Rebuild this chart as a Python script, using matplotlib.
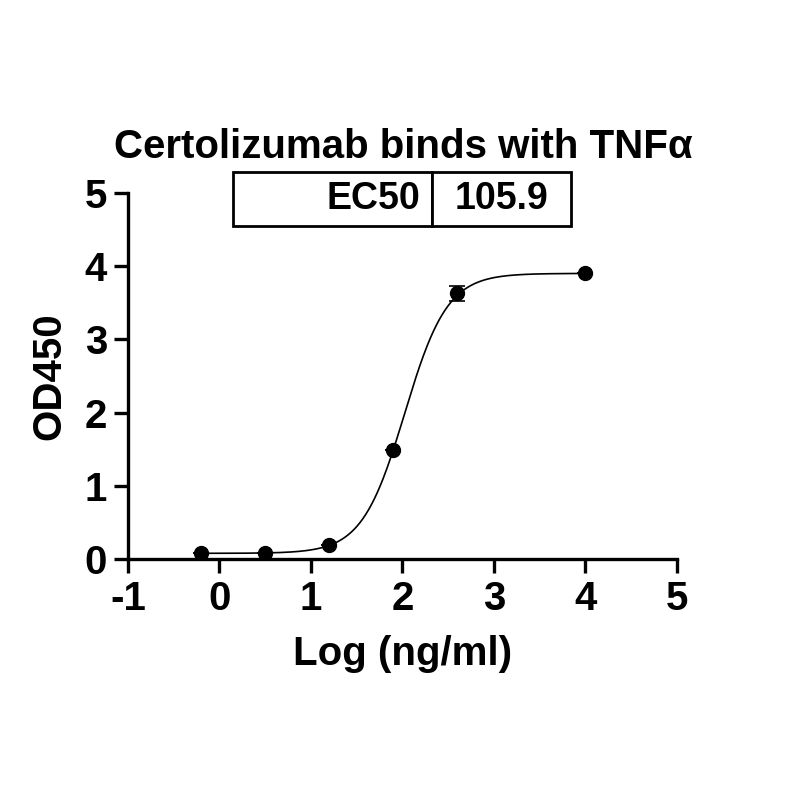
import numpy as np
import matplotlib.pyplot as plt

plt.rcParams["font.family"] = ["Liberation Sans", "DejaVu Sans"]
plt.rcParams["font.weight"] = "bold"

# measured points
log_conc = [-0.2, 0.5, 1.2, 1.9, 2.6, 4.0]
od450 = [0.08, 0.08, 0.2, 1.49, 3.63, 3.9]
od_err = [0.0, 0.0, 0.0, 0.0, 0.1, 0.0]

# 4PL fit parameters (EC50 = 105.9 ng/ml)
bottom = 0.08
top = 3.9
ec50 = 105.9
hill = 1.86

x_ticks = [-1, 0, 1, 2, 3, 4, 5]
y_ticks = [0, 1, 2, 3, 4, 5]

fig = plt.figure(figsize=(8, 8), dpi=100)
ax = fig.add_axes([0.16, 0.301, 0.686, 0.458])

xs = np.linspace(-0.2, 4.0, 400)
fit = bottom + (top - bottom) / (1 + 10 ** ((np.log10(ec50) - xs) * hill))
ax.plot(xs, fit, color="black", lw=1.2)

ax.errorbar(log_conc, od450, yerr=od_err, fmt="o", color="black",
            markersize=10, capsize=6, elinewidth=1.2, capthick=1.2)

ax.set_xlim(-1, 5)
ax.set_ylim(0, 5)
ax.set_xticks(x_ticks)
ax.set_yticks(y_ticks)
ax.set_xticklabels([str(v) for v in x_ticks])
ax.spines["top"].set_visible(False)
ax.spines["right"].set_visible(False)
for s in ["left", "bottom"]:
    ax.spines[s].set_linewidth(2.4)
ax.tick_params(width=2.4, length=10, labelsize=29, pad=5)
for lab in ax.get_xticklabels() + ax.get_yticklabels():
    lab.set_fontweight("bold")

ax.set_xlabel("Log (ng/ml)", fontsize=29, fontweight="bold", labelpad=12)
ax.set_ylabel("OD450", fontsize=29, fontweight="bold", labelpad=12)
fig.text(0.504, 1 - 147 / 800, "Certolizumab binds with TNFα",
         fontsize=29, fontweight="bold", ha="center", va="center")

# EC50 table
tbl = ax.table(cellText=[["EC50", "105.9"]], cellLoc="right",
               bbox=[0.191, 0.91, 0.616, 0.147])
tbl.auto_set_font_size(False)
for (r, c), cell in tbl.get_celld().items():
    cell.set_linewidth(2.0)
    cell.set_facecolor("white")
    cell.get_text().set_fontsize(27)
    cell.get_text().set_fontweight("bold")
    cell.PAD = 0.06
tbl[0, 0].set_width(0.363)
tbl[0, 1].set_width(0.253)
tbl[0, 1].get_text().set_horizontalalignment("center")

fig.savefig("out.png", dpi=100)
